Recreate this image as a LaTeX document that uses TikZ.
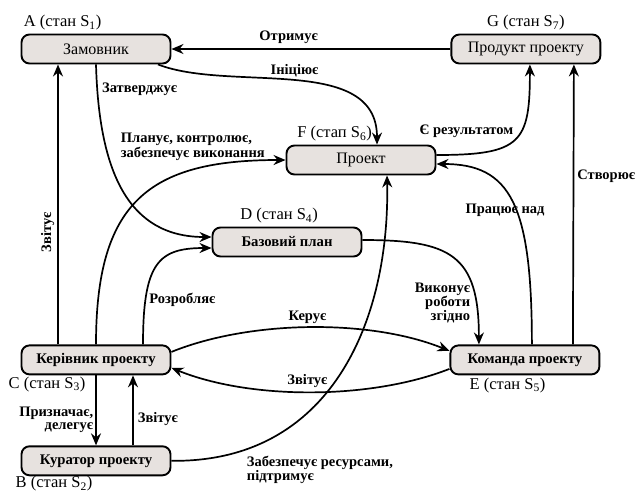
\documentclass[tikz,border=0pt]{standalone}
\usepackage{fontspec}
\setmainfont{Liberation Serif}
\usepackage{tikz}
\usetikzlibrary{arrows.meta,positioning}
\definecolor{boxfill}{RGB}{231,226,223}
\tikzset{
  stanbox/.style={draw, line width=1.9pt, rounded corners=8pt, fill=boxfill,
    minimum width=149pt, minimum height=29pt, inner sep=2pt,
    font=\fontsize{16}{18}\selectfont},
  stanboxb/.style={stanbox, font=\bfseries\fontsize{14.7}{16}\selectfont},
  stanlbl/.style={inner sep=1pt, font=\fontsize{16.5}{18}\selectfont},
  rel/.style={line width=1.7pt, -{Stealth[length=12pt,width=10pt]}},
  rellbl/.style={inner sep=2pt, font=\bfseries\fontsize{14.5}{11.5}\selectfont},
}

\begin{document}
\begin{tikzpicture}[x=1pt,y=-1pt]
    \useasboundingbox (0,0) rectangle (639,493);
    \node[stanbox] (zam) at (96,49) {Замовник};
    \node[stanbox,right=279pt of zam] (prod) {Продукт проекту};
    \node[stanbox] (proekt) at (361,160) {Проект};
    \node[stanboxb] (plan) at (287,242) {Базовий план};
    \node[stanboxb,below=280pt of zam] (kerivnyk) {Керівник проекту};
    \node[stanboxb,right=278pt of kerivnyk] (komanda) {Команда проекту};
    \node[stanboxb,below=70pt of kerivnyk] (kurator) {Куратор проекту};
    \node[stanlbl,anchor=south west] (zamlbl) at ([xshift=2pt,yshift=2pt]zam.north west) {A (стан S\textsubscript{1})};
    \node[stanlbl,anchor=south] (prodlbl) at ([yshift=2pt]prod.north) {G (стан S\textsubscript{7})};
    \node[stanlbl,anchor=south east] (proektlbl) at ([xshift=12pt,yshift=2pt]proekt.north) {F (стап S\textsubscript{6})};
    \node[stanlbl,anchor=south] (planlbl) at ([xshift=-8pt,yshift=2pt]plan.north) {D (стан S\textsubscript{4})};
    \node[stanlbl,anchor=north west] (kerivnyklbl) at ([xshift=-13pt,yshift=0pt]kerivnyk.south west) {C (стан S\textsubscript{3})};
    \node[stanlbl,anchor=north west] (komandalbl) at ([xshift=19pt,yshift=-1pt]komanda.south west) {E (стан S\textsubscript{5})};
    \node[stanlbl,anchor=north west] (kuratorlbl) at ([xshift=-6pt,yshift=1pt]kurator.south west) {B (стан S\textsubscript{2})};
    \draw[rel] (prod) -- node[rellbl,pos=0.58,above=3pt] {Отримує} (zam);
    \draw[rel] ([xshift=62pt]zam.south) .. controls +(72,28) and +(0,-91) ..
        node[rellbl,pos=0.5,above=1pt] {Ініціює} ([xshift=16pt]proekt.north);
    \draw[rel] (zam.south) .. controls +(3,108) and +(-83,0) ..
        node[rellbl,pos=0.08,right=2pt] {Затверджує} ([yshift=5pt]plan.west);
    \draw[rel] ([xshift=-38pt]kerivnyk.north) --
        node[rellbl,pos=0.4,rotate=90,anchor=south,inner sep=3pt] {Звітує} ([xshift=-38pt]zam.south);
    \draw[rel] (kerivnyk.north) .. controls +(0,-142) and +(-137,0) ..
        node[rellbl,pos=0.95,anchor=south east,align=left,inner sep=0pt,yshift=-1pt] {Планує, контролює,\\забезпечує виконання} (proekt.west);
    \draw[rel] ([xshift=47pt]kerivnyk.north) .. controls +(0,-82) and +(-53,0) ..
        node[rellbl,pos=0.22,right=1pt] {Розробляє} ([yshift=-6pt]plan.west);
    \draw[rel] ([yshift=8pt]kerivnyk.east) .. controls +(79,-32) and +(-79,-32) ..
        node[rellbl,pos=0.49,above=1pt] {Керує} ([yshift=9pt]komanda.west);
    \draw[rel] ([yshift=-9pt]komanda.west) .. controls +(-79,31) and +(79,32) ..
        node[rellbl,pos=0.51,above=2pt] {Звітує} ([yshift=-8pt]kerivnyk.east);
    \draw[rel] (kerivnyk.south) --
        node[rellbl,pos=0.64,left=1pt,align=right,inner sep=1pt,font=\bfseries\fontsize{14.5}{13}\selectfont] {Призначає,\\делегує} (kurator.north);
    \draw[rel] ([xshift=37pt]kurator.north) --
        node[rellbl,pos=0.37,right=2pt] {Звітує} ([xshift=37pt]kerivnyk.south);
    \draw[rel] (kurator.east) .. controls +(159,2) and +(3,146) ..
        node[rellbl,pos=0.17,anchor=north west,align=left,yshift=-3pt] {Забезпечує ресурсами,\\підтримує} ([xshift=26pt]proekt.south);
    \draw[rel] ([yshift=5pt]proekt.east) .. controls +(85,0) and +(0,78) ..
        node[rellbl,pos=0.5,anchor=south east,inner sep=1pt] {Є результатом} ([xshift=4pt]prod.south);
    \draw[rel] ([xshift=7pt]komanda.north) .. controls +(0,-140) and +(74,0) ..
        node[rellbl,pos=0.45,xshift=-11pt] {Працює над} ([yshift=-4pt]proekt.east);
    \draw[rel] ([xshift=48pt]komanda.north) --
        node[rellbl,pos=0.6,right=1pt] {Створює} ([xshift=48pt]prod.south);
    \draw[rel] ([yshift=2pt]plan.east) .. controls +(88,0) and +(0,-90) ..
        node[rellbl,pos=0.82,left=3pt,align=right] {Виконує\\роботи\\згідно} ([xshift=-46pt]komanda.north);
\end{tikzpicture}
\end{document}
